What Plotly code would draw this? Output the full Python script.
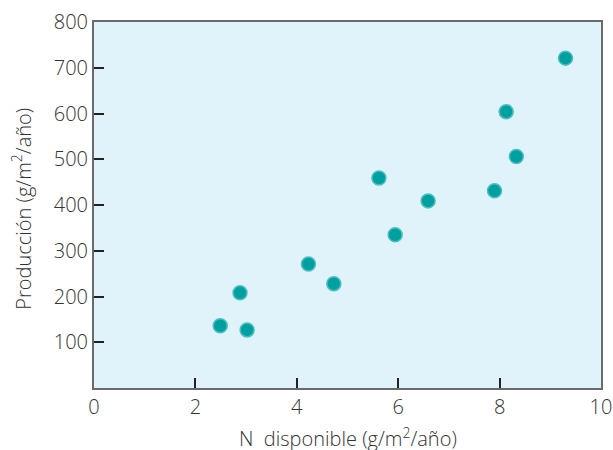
import plotly.graph_objects as go

n_disponible = [2.49, 2.88, 3.02, 4.23, 4.73, 5.62, 5.94, 6.59, 7.90, 8.13, 8.33, 9.30]
produccion = [136, 208, 127, 271, 228, 459, 335, 409, 431, 604, 506, 721]

x_ticks = [0, 2, 4, 6, 8, 10]
y_ticks = [100, 200, 300, 400, 500, 600, 700, 800]

font_family = "Open Sans, Liberation Sans, Arial, sans-serif"
text_color = "#333333"
fw = 300
fs = 20

fig = go.Figure()
fig.add_trace(go.Scatter(
    x=n_disponible, y=produccion, mode="markers",
    marker=dict(size=14, color="#00A0A0", line=dict(color="#4DBFBF", width=1.5)),
    showlegend=False, hoverinfo="x+y",
))

fig.update_layout(
    width=613, height=450,
    margin=dict(l=94, r=12, t=22, b=62, autoexpand=False),
    paper_bgcolor="white",
    plot_bgcolor="#E0F3FA",
    font=dict(family=font_family, size=fs, color=text_color, weight=fw),
    annotations=[
        dict(text="N\u00a0\u00a0disponible (g/m<sup>2</sup>/año)", xref="paper", yref="paper",
             x=0.5, y=-0.135, xanchor="center", yanchor="middle", showarrow=False,
             font=dict(size=fs, color=text_color, weight=fw)),
        dict(text="Producción (g/m<sup>2</sup>/año)", xref="paper", yref="paper",
             x=-0.142, y=0.49, xanchor="center", yanchor="middle", showarrow=False,
             textangle=-90, font=dict(size=fs, color=text_color, weight=fw)),
    ],
)
fig.update_xaxes(
    range=[0, 10], tickvals=x_ticks, ticktext=[str(v) for v in x_ticks],
    ticks="inside", ticklen=10, tickwidth=2, tickcolor="#222",
    showline=True, linecolor="#6a6a6a", linewidth=2, mirror=True,
    showgrid=False, zeroline=False, automargin=False,
    tickfont=dict(size=fs, color=text_color, weight=fw),
)
fig.update_yaxes(
    range=[0, 800], tickvals=y_ticks, ticktext=[str(v) for v in y_ticks],
    ticks="inside", ticklen=10, tickwidth=2, tickcolor="#222",
    showline=True, linecolor="#6a6a6a", linewidth=2, mirror=True,
    showgrid=False, zeroline=False, automargin=False,
    tickfont=dict(size=fs, color=text_color, weight=fw),
)

fig.write_html("out.html", config={"displayModeBar": False},
               post_script="document.body.style.margin='0';")
